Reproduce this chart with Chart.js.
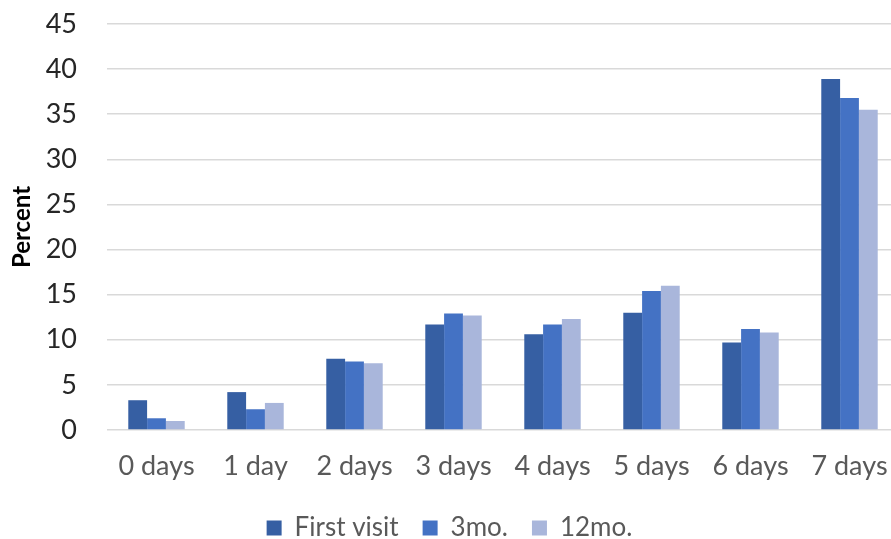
<!DOCTYPE html>
<html>
<head>
<meta charset="utf-8">
<script src="https://cdn.jsdelivr.net/npm/chart.js@4"></script>
<style>
    body { margin: 0; overflow: hidden; background: #fff; }
    #wrap { width: 900px; height: 539px; }
</style>
</head>
<body>
<div id="wrap"><canvas id="daysChart" width="900" height="539"></canvas></div>
<script>
// Data
const categories = ['0 days', '1 day', '2 days', '3 days', '4 days', '5 days', '6 days', '7 days'];
const firstVisit = [3.3, 4.2, 7.9, 11.7, 10.6, 13.0, 9.7, 38.9];
const threeMonths = [1.3, 2.3, 7.6, 12.9, 11.7, 15.4, 11.2, 36.8];
const twelveMonths = [1.0, 3.0, 7.4, 12.7, 12.3, 16.0, 10.8, 35.5];
const yTicks = [0, 5, 10, 15, 20, 25, 30, 35, 40, 45];

const fontFamily = 'Lato, "Open Sans", sans-serif';

const ctx = document.getElementById('daysChart').getContext('2d');
const daysChart = new Chart(ctx, {
    type: 'bar',
    data: {
        labels: categories,
        datasets: [
            { label: 'First visit', data: firstVisit, backgroundColor: '#365FA3' },
            { label: '3mo.', data: threeMonths, backgroundColor: '#4472C4' },
            { label: '12mo.', data: twelveMonths, backgroundColor: '#A9B6DB' }
        ]
    },
    options: {
        responsive: false,
        animation: false,
        // negative bottom padding lets the legend sit close to the edge
        layout: { padding: { top: 24, right: 1, bottom: -12, left: 0 } },
        datasets: {
            bar: { categoryPercentage: 0.57, barPercentage: 1 }
        },
        plugins: {
            tooltip: { enabled: false },
            legend: {
                position: 'bottom',
                labels: {
                    boxWidth: 15,
                    boxHeight: 15,
                    padding: 24,
                    color: '#595959',
                    font: { family: fontFamily, size: 26 }
                }
            }
        },
        scales: {
            x: {
                grid: { display: false },
                border: { display: false },
                ticks: {
                    color: '#595959',
                    padding: 12,
                    font: { family: fontFamily, size: 27 }
                },
                afterFit: scale => { scale.height = 61; }
            },
            y: {
                min: 0,
                max: 45,
                afterBuildTicks: scale => { scale.ticks = yTicks.map(v => ({ value: v })); },
                afterFit: scale => { scale.width = 107; },
                // invisible tick marks push the labels away from the plot
                grid: { color: '#D9D9D9', lineWidth: 1.5, drawTicks: true, tickLength: 30, tickColor: 'rgba(0,0,0,0)' },
                border: { display: false },
                ticks: {
                    color: '#262626',
                    padding: 0,
                    font: { family: fontFamily, size: 27 }
                },
                title: {
                    display: true,
                    text: 'Percent',
                    color: '#000',
                    padding: { top: 8, bottom: 0 },
                    font: { family: fontFamily, size: 24, weight: 'bold' }
                }
            }
        }
    }
});
</script>
</body>
</html>
